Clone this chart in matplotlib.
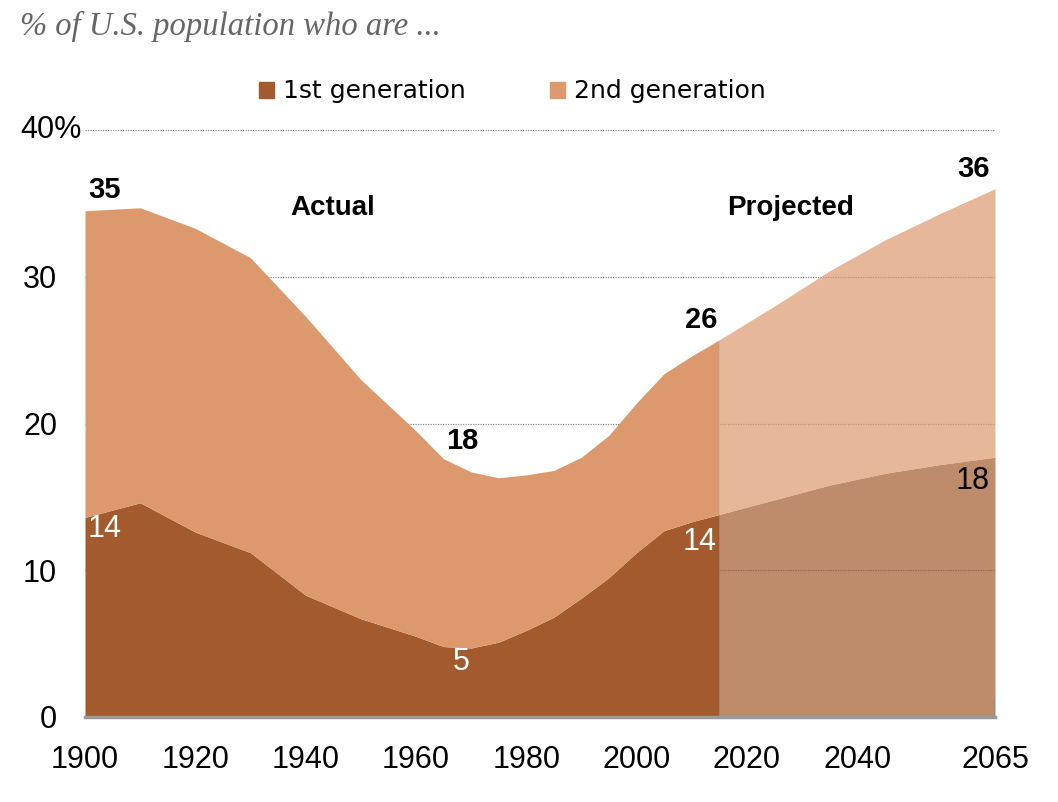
import matplotlib

matplotlib.use("Agg")
import matplotlib.pyplot as plt
from matplotlib.patches import Patch

# ---------------------------------------------------------------------------
# Data
# ---------------------------------------------------------------------------

actual_years = [1900, 1910, 1920, 1930, 1940, 1950, 1960, 1965, 1970, 1975,
                1980, 1985, 1990, 1995, 2000, 2005, 2010, 2015]
actual_first = [13.6, 14.6, 12.6, 11.2, 8.3, 6.7, 5.5, 4.8, 4.7, 5.1,
                5.9, 6.8, 8.1, 9.5, 11.2, 12.7, 13.3, 13.8]
actual_total = [34.5, 34.7, 33.3, 31.3, 27.3, 23.0, 19.5, 17.6, 16.7, 16.3,
                16.5, 16.8, 17.7, 19.2, 21.4, 23.4, 24.6, 25.7]

proj_years = [2015, 2025, 2035, 2045, 2055, 2065]
proj_first = [13.8, 14.8, 15.8, 16.6, 17.2, 17.7]
proj_total = [25.7, 28.0, 30.4, 32.5, 34.3, 36.0]

x_ticks = [1900, 1920, 1940, 1960, 1980, 2000, 2020, 2040, 2065]
y_ticks = [0, 10, 20, 30, 40]
y_tick_labels = ["0", "10", "20", "30", ""]  # 40% drawn separately

series_names = ["1st generation", "2nd generation"]

FIRST_COLOR = "#A35A2D"
SECOND_COLOR = "#DC996E"
PROJ_ALPHA = 0.7

SANS = "Liberation Sans"

# ---------------------------------------------------------------------------
# Figure
# ---------------------------------------------------------------------------

fig = plt.figure(figsize=(10.58, 8.02), dpi=100)
ax = fig.add_axes([85 / 1058, 85 / 802, 910 / 1058, 587 / 802])

# actual (opaque)
ax.fill_between(actual_years, 0, actual_first, color=FIRST_COLOR, lw=0, zorder=2)
ax.fill_between(actual_years, actual_first, actual_total, color=SECOND_COLOR, lw=0, zorder=2)

# projected (translucent, grid shows through)
ax.fill_between(proj_years, 0, proj_first, color=FIRST_COLOR, alpha=PROJ_ALPHA, lw=0, zorder=3)
ax.fill_between(proj_years, proj_first, proj_total, color=SECOND_COLOR, alpha=PROJ_ALPHA,
                lw=0, zorder=3)

for y in y_ticks[1:]:
    ax.axhline(y, color="#8a8a8a", lw=0.9, ls=(0, (1, 1)), zorder=1)

# small grey stub at the right end of the baseline
ax.axvline(proj_years[-1], ymin=0.005, ymax=0.03, color="#8f8f8f", lw=2.5, zorder=4)

ax.set_xlim(1900, 2065)
ax.set_ylim(0, 40)

for side in ["top", "right", "left"]:
    ax.spines[side].set_visible(False)
ax.spines["bottom"].set_color("#9a9a9a")
ax.spines["bottom"].set_linewidth(2.5)
ax.spines["bottom"].set_zorder(5)

ax.set_xticks(x_ticks)
ax.set_xticklabels([str(t) for t in x_ticks], fontsize=22, family=SANS)
ax.set_yticks(y_ticks)
ax.set_yticklabels(y_tick_labels, fontsize=22, family=SANS)
ax.tick_params(axis="x", length=0, pad=20)
ax.tick_params(axis="y", length=0, pad=20)

ax.annotate("40%", xy=(1900, 40), xytext=(-3, 0), textcoords="offset pixels",
            ha="right", va="center", fontsize=22, family=SANS)

# ---------------------------------------------------------------------------
# Labels
# ---------------------------------------------------------------------------

def label(text, xy, offset, ha="center", color="black", weight="normal"):
    ax.annotate(text, xy=xy, xytext=offset, textcoords="offset pixels",
                ha=ha, va="center", fontsize=21 if weight == "bold" else 22,
                family=SANS, color=color, fontweight=weight, zorder=6)


label("35", (actual_years[0], actual_total[0]), (3, 21), ha="left", weight="bold")
label("18", (actual_years[7], actual_total[7]), (19, 18), weight="bold")
label("26", (actual_years[-1], actual_total[-1]), (-2, 20), ha="right", weight="bold")
label("36", (proj_years[-1], proj_total[-1]), (-5, 20), ha="right", weight="bold")

label("14", (actual_years[0], actual_first[0]), (3, -12), ha="left", color="white")
label("5", (actual_years[8], actual_first[8]), (-10, -14), color="white")
label("14", (actual_years[-1], actual_first[-1]), (-3, -28), ha="right", color="white")
label("18", (proj_years[-1], proj_first[-1]), (-5, -24), ha="right")

ax.text(1945, 34.7, "Actual", ha="center", va="center", fontsize=20,
        family=SANS, fontweight="bold", zorder=6)
ax.text(2028, 34.7, "Projected", ha="center", va="center", fontsize=20,
        family=SANS, fontweight="bold", zorder=6)

# legend
handles = [Patch(color=FIRST_COLOR), Patch(color=SECOND_COLOR)]
fig.legend(handles, series_names, loc="center", bbox_to_anchor=(0.4844, 0.886),
           ncol=2, frameon=False, prop={"family": "DejaVu Sans", "size": 18},
           handlelength=0.6, handleheight=0.6, handletextpad=0.35, columnspacing=3.4)

# title
fig.text(20 / 1058, 1 - 26 / 802, "% of U.S. population who are ...", ha="left",
         va="center", fontsize=23.5, family="Liberation Serif", style="italic",
         color="#666666")

fig.savefig("out.png", dpi=100)
